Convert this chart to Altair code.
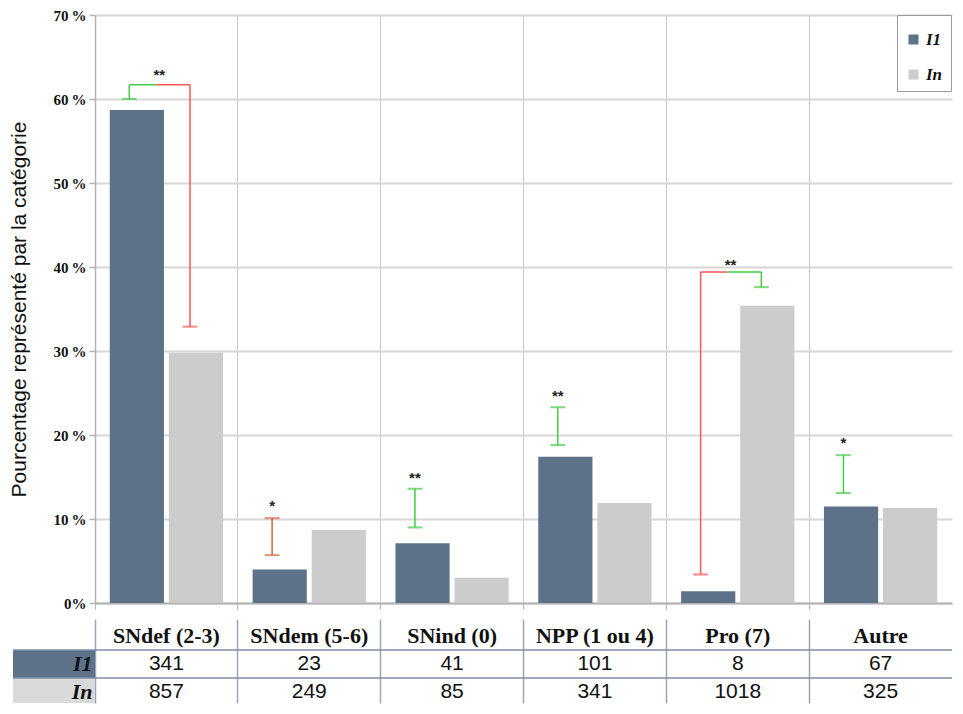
import altair as alt
import pandas as pd

# ---------------- data ----------------
categories = ["SNdef (2-3)", "SNdem (5-6)", "SNind (0)", "NPP (1 ou 4)", "Pro (7)", "Autre"]
series = ["I1", "In"]
pct_I1 = [58.7, 4.0, 7.1, 17.4, 1.4, 11.5]
pct_In = [29.8, 8.7, 3.0, 11.9, 35.4, 11.3]
count_I1 = [341, 23, 41, 101, 8, 67]
count_In = [857, 249, 85, 341, 1018, 325]

# simple error bars drawn over the I1 bar
err_cats = ["SNdem (5-6)", "SNind (0)", "NPP (1 ou 4)", "Autre"]
err_low = [5.7, 9.0, 18.8, 13.1]
err_high = [10.1, 13.6, 23.3, 17.6]
err_sig = ["brun", "vert", "vert", "vert"]
err_stars = ["*", "**", "**", "*"]
err_star_y = [11.5, 14.9, 24.6, 19.0]

# brackets joining I1 and In
br_cats = ["SNdef (2-3)", "Pro (7)"]
br_I1_end = [60.0, 3.4]
br_top = [61.7, 39.4]
br_In_end = [32.9, 37.6]
br_I1_sig = ["vert", "rouge"]
br_In_sig = ["rouge", "vert"]
br_stars = ["**", "**"]
br_star_y = [62.9, 40.2]

table_rows = ["h", "I1", "In"]

# ---------------- tables ----------------
bars_df = pd.DataFrame(
    [{"cat": c, "series": "I1", "pct": v} for c, v in zip(categories, pct_I1)]
    + [{"cat": c, "series": "In", "pct": v} for c, v in zip(categories, pct_In)]
)
err_df = pd.DataFrame({"cat": err_cats, "lo": err_low, "hi": err_high, "sig": err_sig})
br_df = pd.DataFrame({"cat": br_cats, "e1": br_I1_end, "top": br_top, "en": br_In_end,
                      "s1": br_I1_sig, "sn": br_In_sig})
caps1_df = pd.DataFrame(
    [{"cat": c, "pct": lo, "sig": s} for c, lo, s in zip(err_cats, err_low, err_sig)]
    + [{"cat": c, "pct": hi, "sig": s} for c, hi, s in zip(err_cats, err_high, err_sig)]
    + [{"cat": c, "pct": v, "sig": s} for c, v, s in zip(br_cats, br_I1_end, br_I1_sig)]
)
capsn_df = pd.DataFrame({"cat": br_cats, "pct": br_In_end, "sig": br_In_sig})
err_star_df = pd.DataFrame({"cat": err_cats, "pct": err_star_y, "txt": err_stars})
br_star_df = pd.DataFrame({"cat": br_cats, "pct": br_star_y, "txt": br_stars})

tab_df = pd.DataFrame(
    [{"cat": c, "row": "h", "txt": c} for c in categories]
    + [{"cat": c, "row": "I1", "txt": str(v)} for c, v in zip(categories, count_I1)]
    + [{"cat": c, "row": "In", "txt": str(v)} for c, v in zip(categories, count_In)]
)
rowlab_df = pd.DataFrame({"row": ["I1", "In"]})

# ---------------- styles ----------------
SLATE = "#5d7289"
LIGHT = "#cccccc"
GREEN = "#44cc44"
RED = "#ff5555"
W = 857
H = 588
P1 = 0.24    # annotation position on the I1 side of a category band
PM = 0.43    # colour switch on the bracket
PN = 0.665   # annotation position on the In side
CAP = 0.052  # half width of the error-bar caps, in band units

xaxis = alt.Axis(bandPosition=0, labels=False, title=None, ticks=True, tickSize=6,
                 tickColor="#b3b3b3", tickWidth=1, domain=True, domainColor="#b3b3b3",
                 domainWidth=2, grid=True, gridColor="#c8c8c8", gridWidth=1)
yaxis = alt.Axis(values=list(range(0, 71, 10)),
                 labelExpr="datum.value == 0 ? '0%' : datum.value + '\u2009%'",
                 labelFont="Liberation Serif", labelFontWeight="bold", labelFontSize=15,
                 labelColor="#111111", labelPadding=3, tickSize=6, tickColor="#b3b3b3",
                 tickWidth=1.5, domainColor="#b3b3b3", domainWidth=1.5,
                 gridColor="#d6d6d6", gridWidth=2,
                 title="Pourcentage représenté par la catégorie",
                 titleFont="Liberation Sans", titleFontSize=21, titleFontWeight="normal",
                 titleColor="#111111", titlePadding=23)

XSC = alt.Scale(type="band", domain=categories, paddingInner=0, paddingOuter=0)


def Xat(bp=None):
    if bp is None:
        return alt.X("cat:N", sort=categories, scale=XSC, axis=xaxis, title=None)
    return alt.X("cat:N", sort=categories, scale=XSC, axis=xaxis, title=None, bandPosition=bp)


def X2at(bp):
    return alt.X2("cat:N", bandPosition=bp)


XO = alt.XOffset("series:N",
                 scale=alt.Scale(type="band", domain=series, paddingInner=0.083, paddingOuter=0.25))
YSC = alt.Scale(domain=[0, 70], nice=False, zero=True)


def Yf(field):
    return alt.Y(f"{field}:Q", scale=YSC, axis=yaxis,
                 title="Pourcentage représenté par la catégorie")


SIG_DOM = ["vert", "rouge", "brun"]


def sig_stroke(field):
    return alt.Stroke(f"{field}:N", scale=alt.Scale(domain=SIG_DOM, range=[GREEN, RED, "#dd6040"]),
                      legend=None)


bars = alt.Chart(bars_df).mark_bar().encode(
    x=Xat(), xOffset=XO, y=Yf("pct"),
    color=alt.Color("series:N", scale=alt.Scale(domain=series, range=[SLATE, LIGHT]),
                    legend=alt.Legend(orient="none", legendX=802, legendY=0, title=" ",
                                      titleFontSize=8, titlePadding=0,
                                      labelFont="Liberation Serif", labelFontStyle="italic",
                                      labelFontWeight="bold", labelFontSize=17,
                                      labelColor="#111111", labelOffset=4,
                                      symbolType="square", symbolSize=100,
                                      symbolStrokeWidth=0, padding=8, rowPadding=17,
                                      strokeColor="#9a9a9a", fillColor="white")),
)

err_rules = alt.Chart(err_df).mark_rule(strokeWidth=1.5).encode(
    x=Xat(P1), y=Yf("lo"), y2="hi:Q", stroke=sig_stroke("sig"))

# bracket pieces
br_v1 = alt.Chart(br_df).mark_rule(strokeWidth=1.5).encode(
    x=Xat(P1), y=Yf("e1"), y2="top:Q", stroke=sig_stroke("s1"))
br_vn = alt.Chart(br_df).mark_rule(strokeWidth=1.5).encode(
    x=Xat(PN), y=Yf("en"), y2="top:Q", stroke=sig_stroke("sn"))
br_h1 = alt.Chart(br_df).mark_rule(strokeWidth=1.5).encode(
    x=Xat(P1), x2=X2at(PM), y=Yf("top"), stroke=sig_stroke("s1"))
br_hn = alt.Chart(br_df).mark_rule(strokeWidth=1.5).encode(
    x=Xat(PM), x2=X2at(PN), y=Yf("top"), stroke=sig_stroke("sn"))

# caps
caps1 = alt.Chart(caps1_df).mark_rule(strokeWidth=2, strokeOpacity=0.7).encode(
    x=Xat(P1 - CAP), x2=X2at(P1 + CAP), y=Yf("pct"), stroke=sig_stroke("sig"))
capsn = alt.Chart(capsn_df).mark_rule(strokeWidth=2, strokeOpacity=0.7).encode(
    x=Xat(PN - CAP), x2=X2at(PN + CAP), y=Yf("pct"), stroke=sig_stroke("sig"))

star_style = dict(font="Liberation Sans", fontSize=15, fontWeight="bold",
                  baseline="middle", align="center", color="#222222")
err_stars_l = alt.Chart(err_star_df).mark_text(**star_style).encode(
    x=Xat(P1), y=Yf("pct"), text="txt:N")
br_stars_l = alt.Chart(br_star_df).mark_text(**star_style).encode(
    x=Xat(0.45), y=Yf("pct"), text="txt:N")

main = alt.layer(bars, err_rules, br_v1, br_vn, br_h1, br_hn, caps1, capsn,
                 err_stars_l, br_stars_l).properties(width=W, height=H)

# ---------------- table ----------------
TH = 81
TX = alt.X("cat:N", sort=categories,
           scale=alt.Scale(type="band", domain=categories, paddingInner=0, paddingOuter=0),
           axis=alt.Axis(bandPosition=0, grid=True, gridColor="#9aa6b8", gridWidth=1.5,
                         labels=False, ticks=False, domain=False, title=None))
TYS = alt.Scale(type="band", domain=table_rows, range=[0, 84], paddingInner=0, paddingOuter=0)
TYA = alt.Axis(labelExpr="datum.value == 'h' ? '' : datum.value",
               labelFont="Liberation Serif", labelFontStyle="italic", labelFontWeight="bold",
               labelFontSize=22, labelColor="#111111", labelPadding=3, ticks=False,
               domain=False, title=None, zindex=1)


def TY(**kw):
    return alt.Y("row:N", scale=TYS, axis=TYA, title=None, **kw)


bg_scale = alt.Scale(domain=["I1", "In"], range=[SLATE, "#d9d9d9"])
row_bg_1 = alt.Chart(rowlab_df).transform_filter("datum.row == 'I1'").mark_rect().encode(
    y=TY(), x=alt.value(-82), x2=alt.value(0),
    fill=alt.Fill("row:N", scale=bg_scale, legend=None))
row_bg_2 = alt.Chart(rowlab_df).transform_filter("datum.row == 'In'").mark_rect().encode(
    y=TY(bandPosition=0), y2=alt.value(TH), x=alt.value(-82), x2=alt.value(0),
    fill=alt.Fill("row:N", scale=bg_scale, legend=None))
row_lines = alt.Chart(rowlab_df).mark_rule(color="#7f8ea3", strokeWidth=1.5).encode(
    y=TY(bandPosition=0), x=alt.value(-82), x2=alt.value(W))
head_txt = alt.Chart(tab_df).transform_filter("datum.row == 'h'").mark_text(
    font="Liberation Serif", fontWeight="bold", fontSize=22, color="#111111",
    baseline="middle").encode(x=TX, y=TY(), text="txt:N")
num_txt = alt.Chart(tab_df).transform_filter("datum.row != 'h'").mark_text(
    font="Liberation Sans", fontSize=21, color="#111111",
    baseline="middle").encode(x=TX, y=TY(), text="txt:N")

table = alt.layer(row_bg_1, row_bg_2, row_lines, head_txt, num_txt).properties(
    width=W, height=TH)

chart = alt.vconcat(main, table, spacing=11).properties(padding=0).configure_view(
    stroke=None).resolve_scale(fill="independent")

chart.save("out.html", embed_options={"renderer": "svg", "actions": False})
